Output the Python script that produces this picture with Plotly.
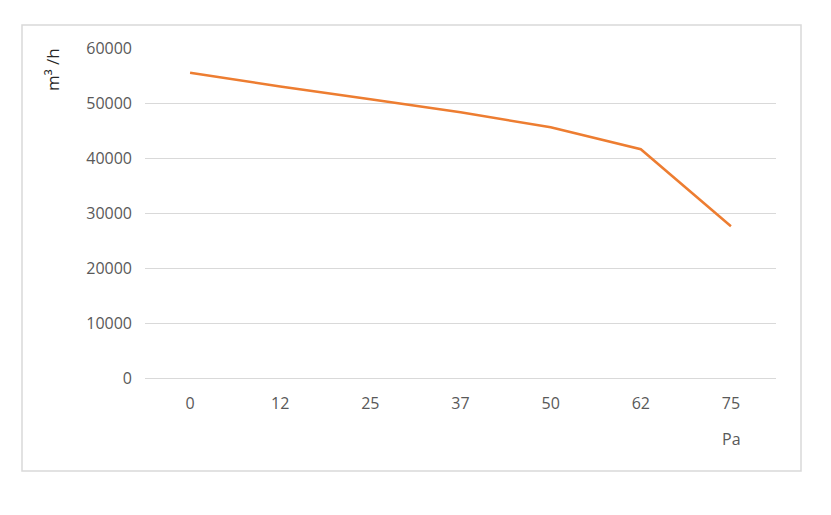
import plotly.graph_objects as go

pressure_pa = ["0", "12", "25", "37", "50", "62", "75"]
airflow_m3h = [55500, 53000, 50700, 48300, 45600, 41600, 27600]
y_ticks = [0, 10000, 20000, 30000, 40000, 50000, 60000]

OFF = 8  # default page body margin
W, H = 831 - OFF, 515 - OFF
L, R, T, B = 145 - OFF, 55, 48 - OFF, 137
pw, ph = W - L - R, H - T - B

def px_x(px):
    return (px - OFF - L) / pw

def px_y(py):
    return (H - B - (py - OFF)) / ph

fig = go.Figure()
fig.add_trace(go.Scatter(
    x=pressure_pa, y=airflow_m3h, mode="lines",
    line=dict(color="#ED7D31", width=2.5),
    showlegend=False, hoverinfo="x+y",
))

tick_font = dict(family="Open Sans, Liberation Sans, sans-serif", size=16, color="#595959")

fig.update_layout(
    width=W, height=H,
    margin=dict(l=L, r=R, t=T, b=B, pad=0),
    paper_bgcolor="white", plot_bgcolor="white",
    xaxis=dict(
        type="category", range=[-0.5, 6.5],
        showgrid=False, zeroline=False, showline=False,
        ticks="", tickfont=tick_font, ticklabelstandoff=14,
    ),
    yaxis=dict(
        range=[0, 60000], tickvals=y_ticks, ticktext=[str(v) for v in y_ticks],
        showgrid=True, gridcolor="#d9d9d9", gridwidth=1.3,
        zeroline=True, zerolinecolor="#d9d9d9", zerolinewidth=1.3,
        showline=False, ticks="", tickfont=tick_font, ticklabelstandoff=12,
    ),
    shapes=[dict(
        type="rect", xref="paper", yref="paper",
        x0=px_x(22), x1=px_x(801), y0=px_y(471), y1=px_y(25),
        line=dict(color="#d9d9d9", width=1.5), fillcolor="rgba(0,0,0,0)", layer="below",
    )],
    annotations=[
        dict(text="m³ /h", xref="paper", yref="paper", x=px_x(52), y=px_y(70),
             xanchor="center", yanchor="middle",
             textangle=-90, showarrow=False,
             font=dict(family="Open Sans, Liberation Sans, sans-serif", size=17, color="#262626")),
        dict(text="Pa", xref="paper", yref="paper", x=px_x(731), y=px_y(439),
             xanchor="center", yanchor="middle",
             showarrow=False, font=tick_font),
    ],
)

fig.write_html("out.html")
